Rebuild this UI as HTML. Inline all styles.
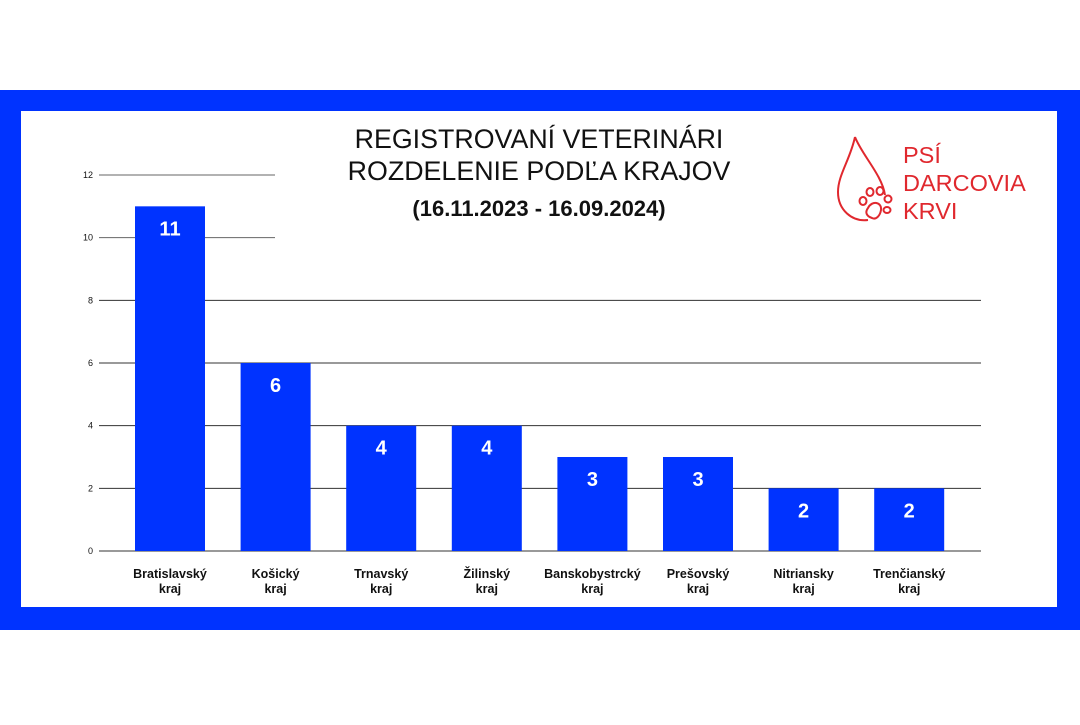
<!DOCTYPE html>
<html><head><meta charset="utf-8"><style>
body{margin:0;width:1080px;height:720px;background:#fff;overflow:hidden;font-family:"Liberation Sans",Arial,sans-serif}
</style></head><body>
<svg width="1080" height="720">
<rect x="0" y="90" width="1080" height="540" fill="#0033ff"/>
<rect x="21" y="111" width="1036" height="496" fill="#fff"/>
<g id="grid"></g>
<g id="bars"></g>
<text x="539" y="148" text-anchor="middle" font-size="26.8" fill="#111">REGISTROVANÍ VETERINÁRI</text>
<text x="539" y="180" text-anchor="middle" font-size="26.8" fill="#111">ROZDELENIE PODĽA KRAJOV</text>
<text x="539" y="216" text-anchor="middle" font-size="22" font-weight="bold" fill="#111">(16.11.2023 - 16.09.2024)</text>
<g stroke="#e0282e" fill="none" stroke-width="2">
<path d="M855 137 C850 160 838 175 838 192 C838 210 852 222 868 220 M855 137 C862 155 882 175 885 195"/>
<ellipse cx="863" cy="201" rx="3.5" ry="4"/><ellipse cx="870" cy="192" rx="3.5" ry="4"/><ellipse cx="880" cy="191" rx="3.5" ry="4"/><ellipse cx="888" cy="199" rx="3.5" ry="3.5"/><ellipse cx="887" cy="210" rx="3.5" ry="3"/>
<path d="M868 208 C872 200 882 202 881 210 C880 216 876 220 872 218 C866 216 865 212 868 208Z"/>
</g>
<g fill="#e0282e" font-size="23.5">
<text x="903" y="163">PSÍ</text><text x="903" y="191">DARCOVIA</text><text x="903" y="219">KRVI</text>
</g>
</svg>
<script>
const categories=[["Bratislavský","kraj"],["Košický","kraj"],["Trnavský","kraj"],["Žilinský","kraj"],["Banskobystrcký","kraj"],["Prešovský","kraj"],["Nitriansky","kraj"],["Trenčianský","kraj"]];
const values=[11,6,4,4,3,3,2,2];
const ticks=[0,2,4,6,8,10,12];
const NS="http://www.w3.org/2000/svg";
const y=v=>551-v*(376/12);
const x=i=>170+i*105.6;
function mk(t,a,p){const e=document.createElementNS(NS,t);for(const k in a)e.setAttribute(k,a[k]);p.appendChild(e);return e;}
const grid=document.getElementById('grid'),bars=document.getElementById('bars');
ticks.forEach(t=>{
 const l=mk('line',{x1:99,x2:t>=10?275:981,y1:y(t),y2:y(t),stroke:t>=10?'#666':'#333','stroke-width':1},grid);
 
 
 const tx=mk('text',{x:93,y:y(t)+3,'text-anchor':'end','font-size':9,fill:'#111'},grid);
 tx.textContent=t;
 
 
});
values.forEach((v,i)=>{
 const r=mk('rect',{x:x(i)-35,y:y(v),width:70,height:y(0)-y(v),fill:'#0033ff'},bars);
 
 
 const t=mk('text',{x:x(i),y:y(v)+29,'text-anchor':'middle','font-size':20,'font-weight':'bold',fill:'#fff'},bars);
 t.textContent=v;
 
 
 categories[i].forEach((s,j)=>{
  const c=mk('text',{x:x(i),y:578+j*15,'text-anchor':'middle','font-size':12.5,'font-weight':'bold',fill:'#111'},bars);
  c.textContent=s;
  
  
 });
});
</script>
</body></html>
